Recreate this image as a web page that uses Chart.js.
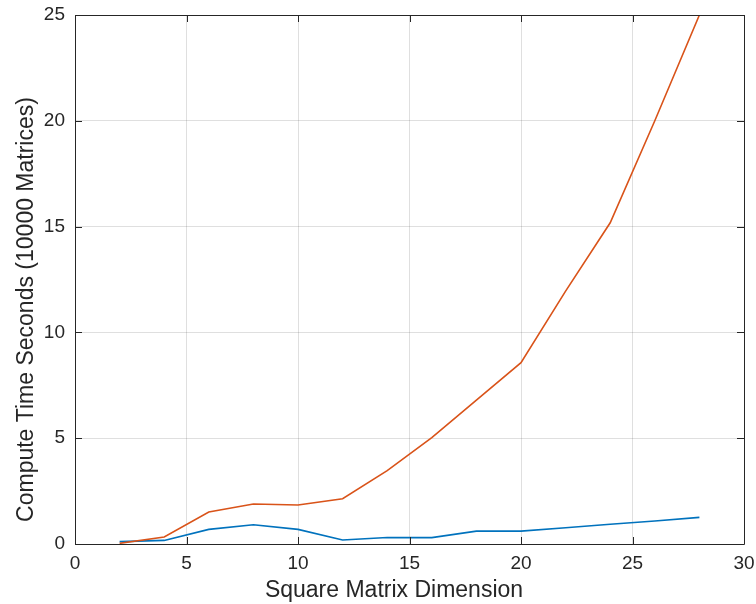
<!DOCTYPE html>
<html>
<head>
<meta charset="utf-8">
<script src="https://cdn.jsdelivr.net/npm/chart.js@4/dist/chart.umd.min.js"></script>
<style>
  html, body { margin: 0; padding: 0; background: #ffffff; }
  #wrap { width: 756px; height: 604px; position: relative; }
</style>
</head>
<body>
<div id="wrap"><canvas id="c" width="756" height="604"></canvas></div>
<script>
// ---- data ----
const dims = [2, 4, 6, 8, 10, 12, 14, 16, 18, 20, 22, 24, 26, 28];
const seriesBlue = [0.11, 0.17, 0.69, 0.91, 0.69, 0.19, 0.31, 0.30, 0.61, 0.61, 0.77, 0.93, 1.09, 1.26];
const seriesOrange = [0.03, 0.33, 1.51, 1.89, 1.84, 2.14, 3.47, 5.03, 6.8, 8.57, 11.95, 15.18, 20.0, 25.0];
const xTickValues = [0, 5, 10, 15, 20, 25, 30];
const yTickValues = [0, 5, 10, 15, 20, 25];
const xTitle = 'Square Matrix Dimension';
const yTitle = 'Compute Time Seconds (10000 Matrices)';

const FONT = '"Liberation Sans", Arial, Helvetica, sans-serif';
const AXIS_COLOR = '#262626';
const GRID_COLOR = 'rgba(38,38,38,0.15)';

const toPoints = (xs, ys) => xs.map((x, i) => ({ x: x, y: ys[i] }));

const boxPlugin = {
  id: 'matlabBox',
  afterDraw(chart) {
    const ctx = chart.ctx;
    const a = chart.chartArea;
    const xs = chart.scales.x, ys = chart.scales.y;
    const tl = 7;
    ctx.save();
    ctx.strokeStyle = AXIS_COLOR;
    ctx.lineWidth = 1;
    ctx.beginPath();
    ctx.rect(Math.round(a.left) + 0.5, Math.round(a.top) + 0.5,
             Math.round(a.right - a.left), Math.round(a.bottom - a.top));
    ctx.stroke();
    ctx.beginPath();
    xTickValues.forEach(v => {
      const px = Math.round(xs.getPixelForValue(v)) + 0.5;
      ctx.moveTo(px, a.bottom); ctx.lineTo(px, a.bottom - tl);
      ctx.moveTo(px, a.top); ctx.lineTo(px, a.top + tl);
    });
    yTickValues.forEach(v => {
      const py = Math.round(ys.getPixelForValue(v)) + 0.5;
      ctx.moveTo(a.left, py); ctx.lineTo(a.left + tl, py);
      ctx.moveTo(a.right, py); ctx.lineTo(a.right - tl, py);
    });
    ctx.stroke();

    // axis titles
    ctx.fillStyle = AXIS_COLOR;
    ctx.font = '23px ' + FONT;
    ctx.textAlign = 'center';
    ctx.textBaseline = 'alphabetic';
    ctx.fillText(xTitle, 394, 597);
    ctx.translate(33, 309.5);
    ctx.rotate(-Math.PI / 2);
    ctx.fillText(yTitle, 0, 0);
    ctx.restore();
  }
};

new Chart(document.getElementById('c'), {
  type: 'line',
  data: {
    datasets: [
      {
        label: 'Series 1',
        data: toPoints(dims, seriesBlue),
        borderColor: '#0072BD',
        backgroundColor: '#0072BD',
        borderWidth: 1.6,
        pointRadius: 0,
        tension: 0,
        fill: false,
        order: 1
      },
      {
        label: 'Series 2',
        data: toPoints(dims, seriesOrange),
        borderColor: '#D95319',
        backgroundColor: '#D95319',
        borderWidth: 1.6,
        pointRadius: 0,
        tension: 0,
        fill: false,
        order: 0
      }
    ]
  },
  options: {
    responsive: false,
    animation: false,
    events: [],
    layout: { padding: { top: 15, right: 12, left: 0, bottom: 0 } },
    plugins: {
      legend: { display: false },
      tooltip: { enabled: false },
      title: { display: false }
    },
    scales: {
      x: {
        type: 'linear',
        min: 0,
        max: 30,
        afterBuildTicks(scale) { scale.ticks = xTickValues.map(v => ({ value: v })); },
        ticks: {
          color: AXIS_COLOR,
          font: { family: FONT, size: 19 },
          padding: 8,
          maxRotation: 0
        },
        grid: { color: GRID_COLOR, drawTicks: false, lineWidth: 1 },
        border: { display: false },
        afterFit(scale) {
          scale.height = 60;
          scale.paddingLeft = 0;
          scale.paddingRight = 0;
        }
      },
      y: {
        type: 'linear',
        min: 0,
        max: 25,
        afterBuildTicks(scale) { scale.ticks = yTickValues.map(v => ({ value: v })); },
        ticks: {
          color: AXIS_COLOR,
          font: { family: FONT, size: 19 },
          padding: 10
        },
        grid: { color: GRID_COLOR, drawTicks: false, lineWidth: 1 },
        border: { display: false },
        afterFit(scale) {
          scale.width = 75;
          scale.paddingTop = 0;
          scale.paddingBottom = 0;
        }
      }
    }
  },
  plugins: [boxPlugin]
});
</script>
</body>
</html>
